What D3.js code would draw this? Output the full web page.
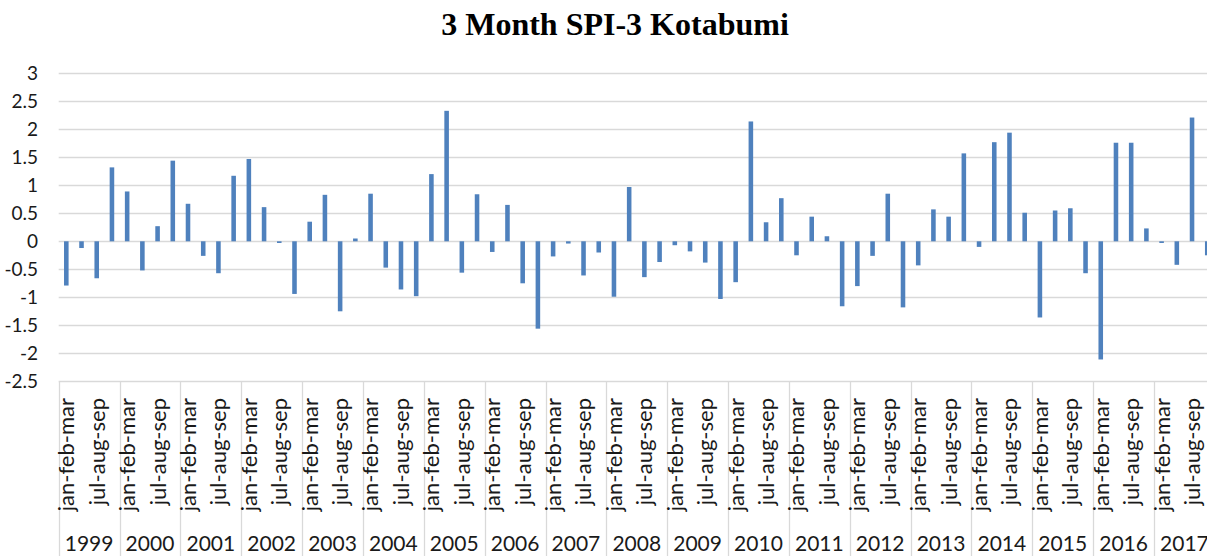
<!DOCTYPE html>
<meta charset="utf-8">
<script src="https://d3js.org/d3.v7.min.js"></script>
<style>
  body { margin: 0; background: #fff; overflow: hidden; }
</style>
<svg id="chart" width="1207" height="556"></svg>
<script>

// Data
var years = ["1999","2000","2001","2002","2003","2004","2005","2006","2007","2008",
             "2009","2010","2011","2012","2013","2014","2015","2016","2017"];
var seasons = ["jan-feb-mar","apr-may-jun","jul-aug-sep","oct-nov-dec"];
var spi = [
  -0.79, -0.12, -0.66,  1.32,   // 1999
   0.89, -0.52,  0.27,  1.44,   // 2000
   0.67, -0.26, -0.57,  1.17,   // 2001
   1.47,  0.61, -0.03, -0.94,   // 2002
   0.35,  0.83, -1.25,  0.05,   // 2003
   0.85, -0.47, -0.86, -0.98,   // 2004
   1.20,  2.33, -0.56,  0.84,   // 2005
  -0.19,  0.65, -0.75, -1.56,   // 2006
  -0.27, -0.04, -0.61, -0.20,   // 2007
  -0.99,  0.97, -0.64, -0.37,   // 2008
  -0.07, -0.18, -0.38, -1.03,   // 2009
  -0.73,  2.14,  0.34,  0.77,   // 2010
  -0.25,  0.44,  0.09, -1.16,   // 2011
  -0.80, -0.26,  0.85, -1.18,   // 2012
  -0.43,  0.57,  0.44,  1.57,   // 2013
  -0.10,  1.77,  1.94,  0.51,   // 2014
  -1.36,  0.55,  0.59, -0.57,   // 2015
  -2.11,  1.76,  1.76,  0.23,   // 2016
  -0.03, -0.42,  2.21, -0.25    // 2017
];
var yTicks = [-2.5, -2, -1.5, -1, -0.5, 0, 0.5, 1, 1.5, 2, 2.5, 3];

var svg = d3.select("#chart");

// one row per bar
var rows = spi.map(function(v, i) {
  return { key: i, year: years[Math.floor(i / 4)], season: seasons[i % 4], q: i % 4, value: v };
});

// the plot runs a bit past the right edge (the original was cropped)
var plotLeft = 58.7, plotRight = 58.7 + years.length * 60.85;
var plotTop = 73.3, plotBottom = 381.3;

var x = d3.scaleBand()
  .domain(rows.map(function(d) { return d.key; }))
  .range([plotLeft, plotRight])
  .paddingInner(0.7)
  .paddingOuter(0.35);

var xYear = d3.scaleBand()
  .domain(years)
  .range([plotLeft, plotRight]);

var y = d3.scaleLinear()
  .domain([-2.5, 3])
  .range([plotBottom, plotTop]);

var fontSans = "Lato, 'Open Sans', sans-serif";

// Title
svg.append("text")
  .attr("x", 615)
  .attr("y", 35)
  .attr("text-anchor", "middle")
  .style("font-family", "'Liberation Serif', 'Times New Roman', serif")
  .style("font-weight", "bold")
  .style("font-size", "32px")
  .attr("fill", "#000")
  .text("3 Month SPI-3 Kotabumi");

// gridlines
svg.append("g")
  .selectAll("line")
  .data(yTicks)
  .enter()
  .append("line")
    .attr("x1", plotLeft)
    .attr("x2", 1207)
    .attr("y1", function(d) { return Math.round(y(d)) + 0.5; })
    .attr("y2", function(d) { return Math.round(y(d)) + 0.5; })
    .attr("stroke", "#d9d9d9")
    .attr("stroke-width", 1.3);

// y tick labels
svg.append("g")
  .selectAll("text")
  .data(yTicks)
  .enter()
  .append("text")
    .attr("x", 38)
    .attr("y", function(d) { return y(d); })
    .attr("dy", "0.36em")
    .attr("text-anchor", "end")
    .style("font-family", fontSans)
    .style("font-size", "19px")
    .attr("fill", "#1a1a1a")
    .text(function(d) { return d; });

// bars
svg.append("g")
  .selectAll("rect")
  .data(rows)
  .enter()
  .append("rect")
    .attr("x", function(d) { return x(d.key); })
    .attr("width", x.bandwidth())
    .attr("y", function(d) { return y(Math.max(0, d.value)); })
    .attr("height", function(d) { return Math.abs(y(d.value) - y(0)); })
    .attr("fill", "#4f81bd");

// year separators on the category axis
svg.append("g")
  .selectAll("line")
  .data(d3.range(years.length + 1))
  .enter()
  .append("line")
    .attr("x1", function(k) { return Math.round(plotLeft + k * xYear.step()) + 0.5; })
    .attr("x2", function(k) { return Math.round(plotLeft + k * xYear.step()) + 0.5; })
    .attr("y1", plotBottom)
    .attr("y2", 556)
    .attr("stroke", "#d9d9d9")
    .attr("stroke-width", 1.3);

// season labels (every other one shown, like the original)
svg.append("g")
  .selectAll("text")
  .data(rows.filter(function(d) { return d.q % 2 === 0; }))
  .enter()
  .append("text")
    .attr("transform", function(d) {
      return "translate(" + (x(d.key) + x.bandwidth() / 2) + ",398) rotate(-90)";
    })
    .attr("dy", "0.36em")
    .attr("text-anchor", "end")
    .style("font-family", fontSans)
    .style("font-size", "22px")
    .attr("fill", "#1a1a1a")
    .text(function(d) { return d.season; });

// year labels
svg.append("g")
  .selectAll("text")
  .data(years)
  .enter()
  .append("text")
    .attr("x", function(d) { return xYear(d) + xYear.bandwidth() / 2; })
    .attr("y", 551)
    .attr("text-anchor", "middle")
    .style("font-family", fontSans)
    .style("font-size", "21px")
    .attr("fill", "#1a1a1a")
    .text(function(d) { return d; });

</script>
